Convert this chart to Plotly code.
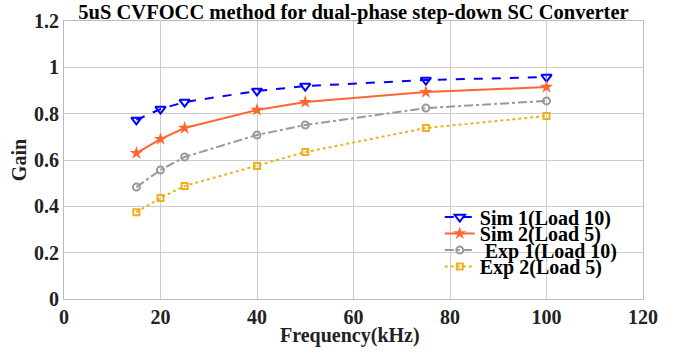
import plotly.graph_objects as go

freq = [15, 20, 25, 40, 50, 75, 100]
sim1 = [0.773, 0.820, 0.850, 0.898, 0.919, 0.945, 0.958]
sim2 = [0.630, 0.690, 0.738, 0.816, 0.850, 0.893, 0.915]
exp1 = [0.483, 0.557, 0.613, 0.708, 0.751, 0.824, 0.855]
exp2 = [0.375, 0.436, 0.488, 0.574, 0.634, 0.738, 0.790]
names = ["Sim 1(Load 10)", "Sim 2(Load 5)", " Exp 1(Load 10)", "Exp 2(Load 5)"]
xticks = [0, 20, 40, 60, 80, 100, 120]
yticks = [0, 0.2, 0.4, 0.6, 0.8, 1, 1.2]

FONT = "Liberation Serif"
TXT = "#222222"
fig = go.Figure()
fig.add_trace(go.Scatter(x=freq, y=sim1, name=names[0], mode="lines+markers", legend="legend",
                         line=dict(color="#0000FF", dash="dash", width=2),
                         marker=dict(symbol="triangle-down-open", size=9, color="#0000FF", line=dict(width=2))))
fig.add_trace(go.Scatter(x=freq, y=sim2, name=names[1], mode="lines+markers", legend="legend2",
                         line=dict(color="#FF6633", width=2),
                         marker=dict(symbol="star", size=10, color="#FF6633")))
fig.add_trace(go.Scatter(x=freq, y=exp1, name=names[2], mode="lines+markers", legend="legend3",
                         line=dict(color="#999999", dash="dashdot", width=2),
                         marker=dict(symbol="circle-open", size=7, color="#999999", line=dict(width=2))))
fig.add_trace(go.Scatter(x=freq, y=exp2, name=names[3], mode="lines+markers", legend="legend4",
                         line=dict(color="#EDB120", dash="dot", width=2),
                         marker=dict(symbol="square-open", size=6, color="#EDB120", line=dict(width=2))))
for tr in fig.data:
    tr.showlegend = True

tickfont = dict(family=FONT, size=20, color=TXT, weight="bold")
axis_common = dict(showgrid=True, gridcolor="#CCCCCC", gridwidth=1, zeroline=False,
                   showline=True, linecolor="#BBBBBB", linewidth=1, mirror=True,
                   tickfont=tickfont, ticks="", automargin=False)
fig.update_xaxes(range=[0, 120], tickvals=xticks, **axis_common)
fig.update_yaxes(range=[0, 1.2], tickvals=yticks, ticktext=[f"{v:g}" for v in yticks],
                 title=dict(text="Gain", standoff=2,
                            font=dict(family=FONT, size=20, color=TXT, weight="bold")),
                 **axis_common)

fig.add_annotation(text="Frequency(kHz)", xref="paper", yref="paper", x=0.494, y=-0.13,
                   xanchor="center", yanchor="middle", showarrow=False,
                   font=dict(family=FONT, size=20, color=TXT, weight="bold"))

leg_y = [0.295, 0.236, 0.176, 0.117]
leg_common = dict(x=0.649, xanchor="left", yanchor="middle", bgcolor="rgba(0,0,0,0)",
                  font=dict(family=FONT, size=20, color="black", weight="bold"),
                  itemwidth=30, borderwidth=0, visible=True)

fig.update_layout(
    width=679, height=354,
    showlegend=True,
    margin=dict(l=64, r=36, t=21, b=55),
    plot_bgcolor="white", paper_bgcolor="white",
    title=dict(text="5uS CVFOCC method for dual-phase step-down SC Converter",
               x=0.5, xref="paper", xanchor="center", y=1 - 12 / 354, yanchor="middle",
               font=dict(family=FONT, size=20.5, color="black", weight="bold")),
    legend=dict(y=leg_y[0], **leg_common),
    legend2=dict(y=leg_y[1], **leg_common),
    legend3=dict(y=leg_y[2], **leg_common),
    legend4=dict(y=leg_y[3], **leg_common),
    font=dict(family=FONT),
)
fig.write_html("out.html", post_script="document.body.style.margin='0';",
               config={"displayModeBar": False})
